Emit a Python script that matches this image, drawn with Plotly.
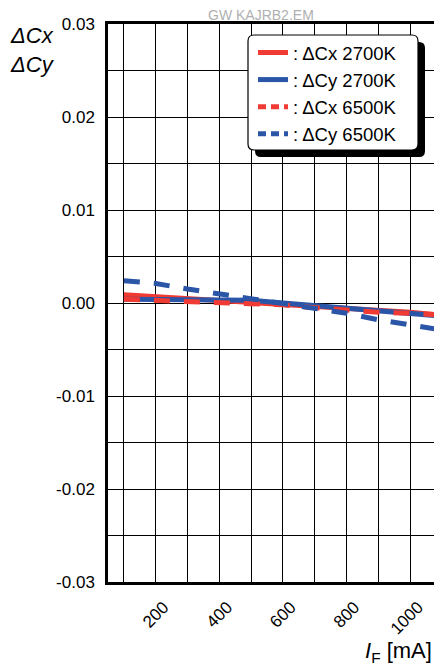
import plotly.graph_objects as go

current_ma = [100, 200, 300, 400, 500, 600, 700, 800, 900, 1000, 1100]
dcx_2700 = [0.0009, 0.0007, 0.0005, 0.0003, 0.0001, -0.0001, -0.0003, -0.0005, -0.0008, -0.0010, -0.0013]
dcy_2700 = [0.0004, 0.0004, 0.0004, 0.0004, 0.0003, 0.0000, -0.0003, -0.0005, -0.0008, -0.0011, -0.0014]
dcx_6500 = [0.0004, 0.0003, 0.0001, 0.0000, -0.0001, -0.0002, -0.0005, -0.0008, -0.0010, -0.0011, -0.0013]
dcy_6500 = [0.0024, 0.0021, 0.0015, 0.0010, 0.0005, 0.0000, -0.0006, -0.0011, -0.0018, -0.0024, -0.0029]

x_ticks = [200, 400, 600, 800, 1000]
y_ticks = [0.03, 0.02, 0.01, 0.0, -0.01, -0.02, -0.03]
y_labels = ["0.03", "0.02", "0.01", "0.00", "-0.01", "-0.02", "-0.03"]

series = [
    (": \u0394Cx 2700K", dcx_2700, "#ef3b33", "solid", "solid"),
    (": \u0394Cy 2700K", dcy_2700, "#2b55a6", "solid", "solid"),
    (": \u0394Cx 6500K", dcx_6500, "#ef3b33", "16px,14px", "8px,5px"),
    (": \u0394Cy 6500K", dcy_6500, "#2b55a6", "16px,14px", "8px,5px"),
]

W, H = 434, 671
ML, MR, MT, MB = 108, 0, 24, 89
PW, PH = W - ML - MR, H - MT - MB

# helpers converting pixels to paper fractions
def px(x):
    return (x - ML) / PW

def py(y):
    return (H - MB - y) / PH

FONT = "Liberation Sans, Arial, sans-serif"

fig = go.Figure()
for name, vals, color, dash, _ in series:
    fig.add_trace(go.Scatter(x=current_ma, y=vals, mode="lines", name=name,
                             showlegend=False,
                             line=dict(color=color, width=5, dash=dash)))
# legend entries (sample style as in the reference legend)
for name, vals, color, _, ldash in series:
    fig.add_trace(go.Scatter(x=[None], y=[None], mode="lines", name=name,
                             showlegend=True,
                             line=dict(color=color, width=5, dash=ldash)))

def rrect(x0, y0, x1, y1, r):
    rx, ry = r / PW, r / PH
    X0, X1 = px(x0), px(x1)
    Y0, Y1 = py(y0), py(y1)  # Y0 top, Y1 bottom
    return (f"M{X0+rx},{Y0} L{X1-rx},{Y0} Q{X1},{Y0} {X1},{Y0-ry} "
            f"L{X1},{Y1+ry} Q{X1},{Y1} {X1-rx},{Y1} L{X0+rx},{Y1} "
            f"Q{X0},{Y1} {X0},{Y1+ry} L{X0},{Y0-ry} Q{X0},{Y0} {X0+rx},{Y0} Z")

shapes = [
    dict(type="path", xref="paper", yref="paper", path=rrect(255, 42, 425, 157, 6),
         fillcolor="black", line=dict(width=0), layer="above"),
    dict(type="path", xref="paper", yref="paper", path=rrect(248, 35, 418, 150, 6),
         fillcolor="white", line=dict(color="black", width=1.2), layer="above"),
]

fig.update_layout(
    width=W, height=H,
    margin=dict(l=ML, r=MR, t=MT, b=MB, autoexpand=False),
    paper_bgcolor="white", plot_bgcolor="white",
    font=dict(family=FONT, size=17, color="black"),
    showlegend=True,
    legend=dict(x=px(253), y=py(34), xanchor="left", yanchor="top",
                bgcolor="rgba(0,0,0,0)", borderwidth=0,
                font=dict(family=FONT, size=18.5, color="black"),
                itemwidth=30, tracegroupgap=0),
    shapes=shapes,
    xaxis=dict(range=[50, 1075], tickvals=x_ticks, ticktext=[str(v) for v in x_ticks],
               tickangle=-45, showgrid=True, gridcolor="black", gridwidth=1.3,
               minor=dict(dtick=100, tick0=0, showgrid=True, gridcolor="black", gridwidth=1.3),
               showline=True, linecolor="black", linewidth=2.5, mirror=True,
               zeroline=False, ticks="", ticklabelshift=8, ticklabelstandoff=6,
               automargin=False),
    yaxis=dict(range=[-0.03, 0.03], tickvals=y_ticks, ticktext=y_labels,
               showgrid=True, gridcolor="black", gridwidth=1.3,
               minor=dict(dtick=0.005, tick0=0, showgrid=True, gridcolor="black", gridwidth=1.3),
               showline=True, linecolor="black", linewidth=2.5,
               zeroline=False, ticks="", ticklabelstandoff=7, automargin=False),
    annotations=[
        dict(text="GW KAJRB2.EM", xref="paper", yref="paper", x=px(261), y=py(15),
             xanchor="center", yanchor="middle", showarrow=False,
             font=dict(family=FONT, size=14, color="#b0b0b0")),
        dict(text="<i>\u0394Cx</i><br><i>\u0394Cy</i>", xref="paper", yref="paper",
             x=px(8), y=py(21), xanchor="left", yanchor="top", align="left",
             showarrow=False, font=dict(family=FONT, size=22, color="black")),
        dict(text="<i>I</i><sub>F</sub> [mA]", xref="paper", yref="paper",
             x=px(434), y=py(668), xanchor="right", yanchor="bottom",
             showarrow=False, font=dict(family=FONT, size=22, color="black")),
    ],
)

fig.write_html("out.html",
               config={"displayModeBar": False},
               post_script="document.body.style.margin='0';"
                           "document.documentElement.style.overflow='hidden';")
